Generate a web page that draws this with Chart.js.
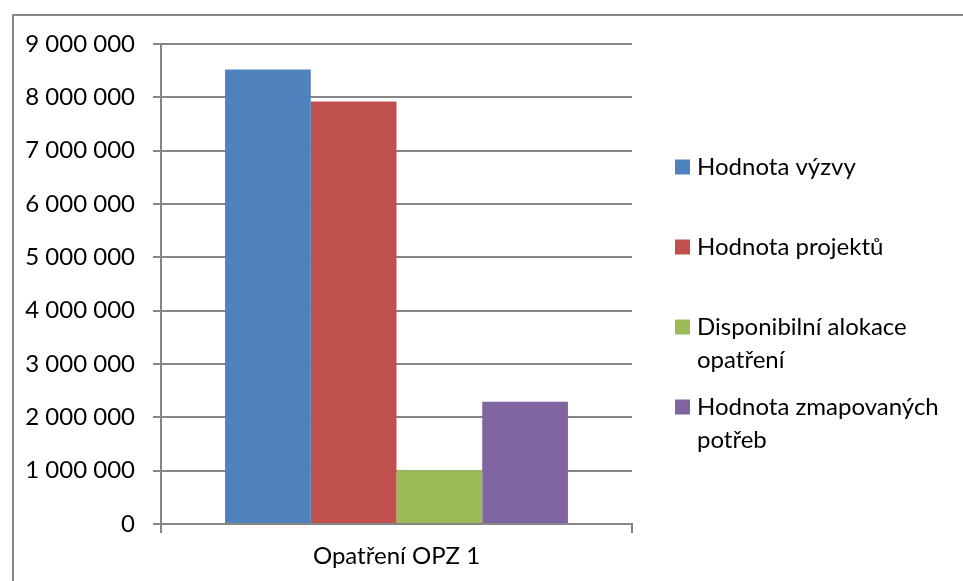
<!DOCTYPE html>
<html>
<head>
<meta charset="utf-8">
<script src="https://cdn.jsdelivr.net/npm/chart.js@4/dist/chart.umd.min.js"></script>
<style>
  html, body { margin: 0; padding: 0; background: #fff; }
  #wrap { width: 963px; height: 581px; position: relative; }
</style>
</head>
<body>
<div id="wrap"><canvas id="c" width="963" height="581"></canvas></div>
<script>
const categories = ['Opatření OPZ 1'];
const seriesNames = ['Hodnota výzvy', 'Hodnota projektů', 'Disponibilní alokace opatření', 'Hodnota zmapovaných potřeb'];
const hodnotaVyzvy = [8520000];
const hodnotaProjektu = [7920000];
const disponibilniAlokace = [1010000];
const hodnotaPotreb = [2290000];
const seriesColors = ['#4F81BD', '#C0504D', '#9BBB59', '#8064A2'];
const yTickLabels = ['0', '1 000 000', '2 000 000', '3 000 000', '4 000 000', '5 000 000', '6 000 000', '7 000 000', '8 000 000', '9 000 000'];

const FONT = 'Lato';
const FS = 24;
const GRAY = '#868686';

const frame = {
  id: 'frame',
  beforeDraw(chart) {
    const ctx = chart.ctx;
    ctx.save();
    ctx.fillStyle = '#fff';
    ctx.fillRect(0, 0, chart.width, chart.height);
    ctx.strokeStyle = GRAY;
    ctx.lineWidth = 2;
    ctx.strokeRect(13, 15, chart.width + 20, chart.height + 20);
    ctx.restore();
  }
};

const sideLegend = {
  id: 'sideLegend',
  afterDraw(chart) {
    const ctx = chart.ctx;
    ctx.save();
    ctx.font = FS + 'px ' + FONT;
    ctx.textBaseline = 'middle';
    ctx.textAlign = 'left';
    const maxW = 262;
    const boxX = 675, textX = 697, firstY = 167, step = 80, lineH = 33, box = 15;
    chart.data.datasets.forEach((ds, i) => {
      const words = ds.label.split(' ');
      const lines = [];
      let cur = '';
      words.forEach(w => {
        const t = cur ? cur + ' ' + w : w;
        if (ctx.measureText(t).width > maxW && cur) { lines.push(cur); cur = w; }
        else cur = t;
      });
      if (cur) lines.push(cur);
      const y = firstY + i * step;
      ctx.fillStyle = ds.backgroundColor;
      ctx.fillRect(boxX, y - box / 2, box, box);
      ctx.fillStyle = '#000';
      lines.forEach((ln, j) => ctx.fillText(ln, textX, y + j * lineH));
    });
    ctx.restore();
  }
};

const data = {
  labels: categories,
  datasets: [
    { label: seriesNames[0], data: hodnotaVyzvy, backgroundColor: seriesColors[0] },
    { label: seriesNames[1], data: hodnotaProjektu, backgroundColor: seriesColors[1] },
    { label: seriesNames[2], data: disponibilniAlokace, backgroundColor: seriesColors[2] },
    { label: seriesNames[3], data: hodnotaPotreb, backgroundColor: seriesColors[3] }
  ]
};

new Chart(document.getElementById('c'), {
  type: 'bar',
  data: data,
  options: {
    responsive: false,
    animation: false,
    devicePixelRatio: 1,
    layout: { padding: { left: 0, top: 44, right: 331, bottom: 0 } },
    datasets: { bar: { categoryPercentage: 0.728, barPercentage: 1.0, borderWidth: 0 } },
    plugins: { legend: { display: false }, tooltip: { enabled: false } },
    scales: {
      x: {
        offset: true,
        grid: { display: true, drawOnChartArea: false, drawTicks: true, tickLength: 9, color: GRAY, lineWidth: 2, offset: true },
        border: { display: true, color: GRAY, width: 2 },
        ticks: { color: '#000', font: { family: FONT, size: FS }, padding: 9 },
        afterFit(s) { s.height = 57; }
      },
      y: {
        min: 0, max: 9000000,
        ticks: {
          stepSize: 1000000,
          color: '#000',
          font: { family: FONT, size: FS },
          padding: 18,
          callback: (v, i) => yTickLabels[i]
        },
        grid: { color: GRAY, lineWidth: 2, tickLength: 8, drawTicks: true },
        border: { display: true, color: GRAY, width: 2 },
        afterFit(s) { s.width = 161; }
      }
    }
  },
  plugins: [frame, sideLegend]
});
</script>
</body>
</html>
